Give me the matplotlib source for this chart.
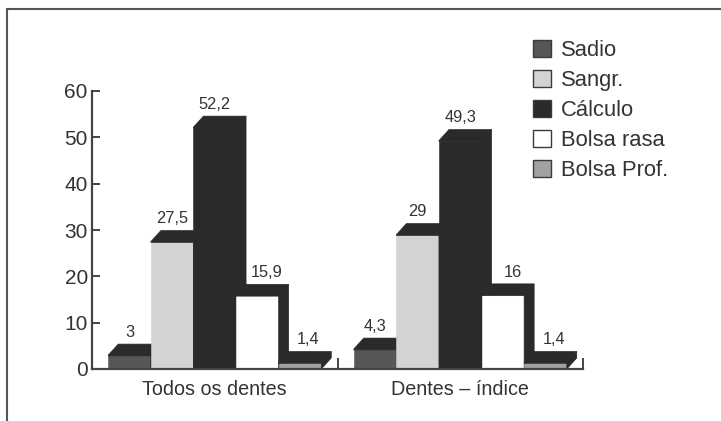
import matplotlib
matplotlib.use("Agg")
import matplotlib.pyplot as plt
from matplotlib.patches import Rectangle, Polygon, Patch

plt.rcParams['font.family'] = ['Liberation Sans', 'DejaVu Sans']

# data
groups = ["Todos os dentes", "Dentes – índice"]
series = ["Sadio", "Sangr.", "Cálculo", "Bolsa rasa", "Bolsa Prof."]
todos_dentes = [3, 27.5, 52.2, 15.9, 1.4]
dentes_indice = [4.3, 29, 49.3, 16, 1.4]
yticks = [0, 10, 20, 30, 40, 50, 60]

values = [todos_dentes, dentes_indice]

# styling
front_colors = ["#575757", "#d3d3d3", "#2a2a2a", "#ffffff", "#a2a2a2"]
label_nudge = [0, 0, 0, 7, 6]   # horizontal label shift, points
shade = "#2a2a2a"
text_color = "#333333"
axis_color = "#444444"

W, H = 721, 421
fig = plt.figure(figsize=(W / 100, H / 100), dpi=100)
ax = fig.add_axes([92 / W, (H - 369) / H, (583 - 92) / W, (369 - 91) / H])
ax.set_xlim(0, 2)
ax.set_ylim(0, 60)

# bar geometry (pixel sizes converted to data units)
px_x = (583 - 92) / 2.0     # pixels per x unit
px_y = (369 - 91) / 60.0    # pixels per y unit
bar_w = 42.6 / px_x
dx = 10.0 / px_x
dy = 11.0 / px_y
rim = 0.8 / px_y            # dark rim along the front's top edge

for g, vals in enumerate(values):
    center = g + 0.5
    for i, v in enumerate(vals):
        x0 = center + (i - 2.5) * bar_w
        x1 = x0 + bar_w
        front = Rectangle((x0, 0), bar_w, v, facecolor=front_colors[i],
                          edgecolor=front_colors[i], linewidth=0.4,
                          clip_on=False, zorder=2)
        side = Polygon([(x1, 0), (x1 + dx, dy), (x1 + dx, v + dy), (x1, v)],
                       closed=True, facecolor=shade, edgecolor=shade,
                       linewidth=0.5, clip_on=False, zorder=2)
        top = Polygon([(x0, v - rim), (x0, v), (x0 + dx, v + dy),
                       (x1 + dx, v + dy), (x1, v), (x1, v - rim)],
                      closed=True, facecolor=shade, edgecolor=shade,
                      linewidth=0.5, clip_on=False, zorder=2)
        ax.add_patch(front)
        ax.add_patch(side)
        ax.add_patch(top)
        label = f"{v:g}".replace(".", ",")
        ax.annotate(label, (x0 + bar_w / 2, v + dy),
                    xytext=(label_nudge[i], 3), textcoords="offset points",
                    ha="center", va="bottom", fontsize=11.8,
                    color=text_color, zorder=3)

# axes styling
for s in ["top", "right"]:
    ax.spines[s].set_visible(False)
for s in ["left", "bottom"]:
    ax.spines[s].set_color(axis_color)
    ax.spines[s].set_linewidth(1.6)
    ax.spines[s].set_zorder(4)

ax.set_yticks(yticks)
ax.set_yticklabels([str(t) for t in yticks])
ax.tick_params(axis="y", direction="in", length=6, width=1.4,
               color=axis_color, labelsize=15, labelcolor=text_color, pad=3)

ax.set_xticks([1, 2])
ax.set_xticklabels([])
ax.set_xticks([0.5, 1.5], minor=True)
ax.set_xticklabels(groups, minor=True)
ax.tick_params(axis="x", which="major", direction="in", length=8, width=1.4,
               color=axis_color)
ax.tick_params(axis="x", which="minor", length=0, labelsize=14.2,
               labelcolor=text_color, pad=8)

# legend
handles = [Patch(facecolor=c, edgecolor="#3a3a3a", linewidth=1.0)
           for c in front_colors]
leg = fig.legend(handles, series, loc="upper left",
                 bbox_to_anchor=(533 / W, 1 - 40 / H),
                 bbox_transform=fig.transFigure, frameon=False,
                 fontsize=15.8, handlelength=0.82, handleheight=0.78,
                 handletextpad=0.45, labelspacing=0.41, borderpad=0,
                 borderaxespad=0)
for t in leg.get_texts():
    t.set_color(text_color)

# outer frame
frame = Rectangle((7 / W, -0.05), 1.2, 1 - 9 / H + 0.05,
                  transform=fig.transFigure, facecolor="none",
                  edgecolor="#555555", linewidth=1.5, clip_on=False)
fig.add_artist(frame)

fig.savefig("out.png", dpi=100, facecolor="white")
